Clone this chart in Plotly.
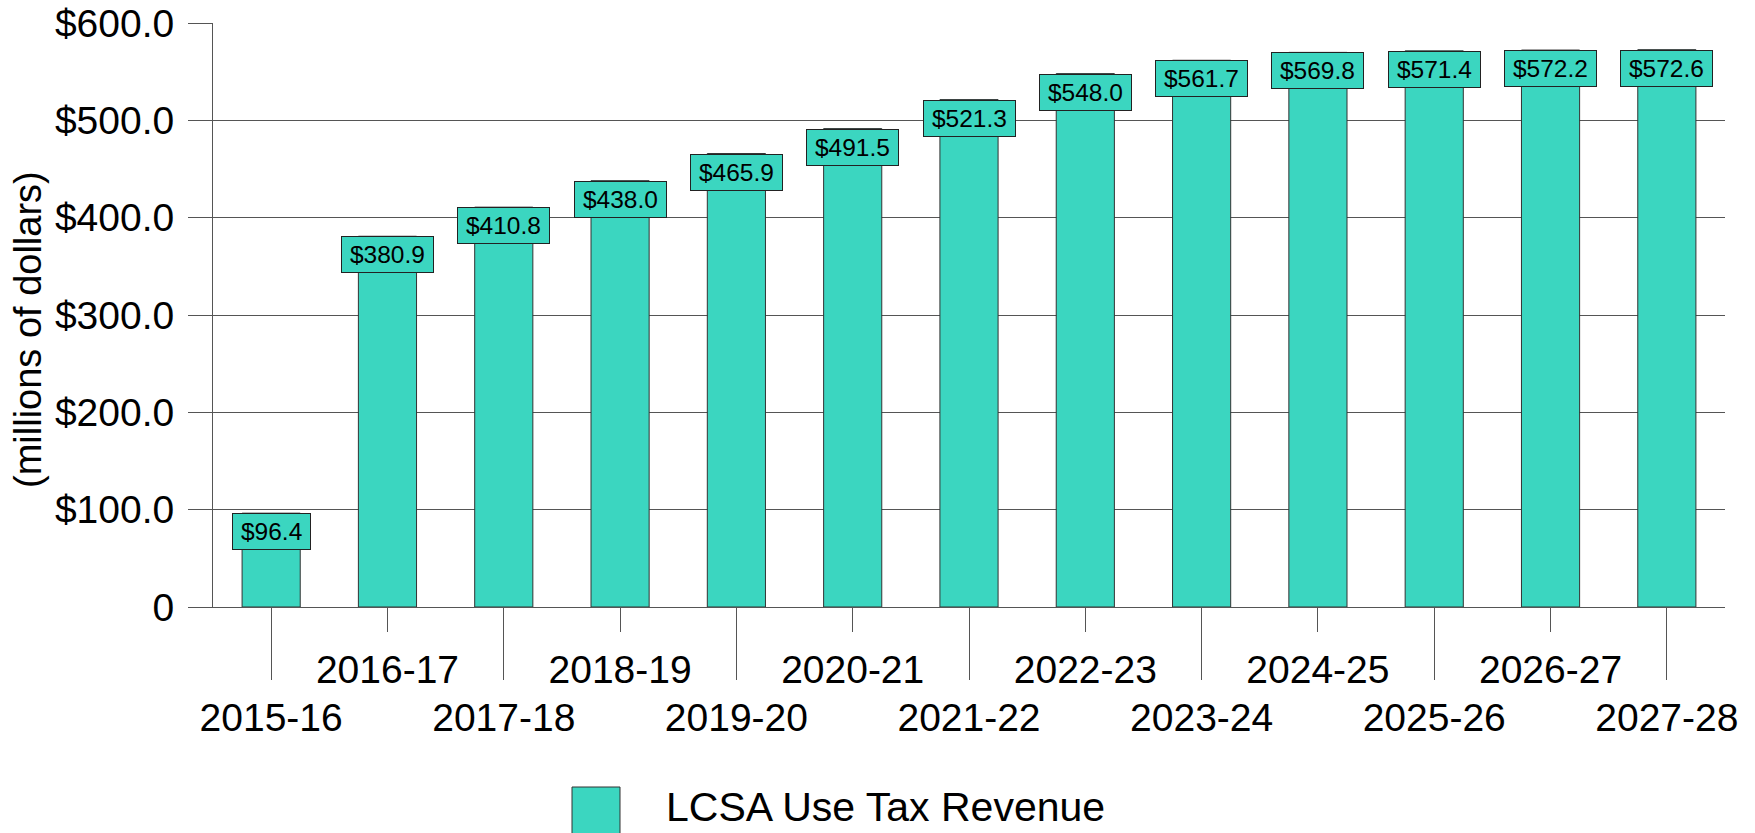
import plotly.graph_objects as go

categories = ["2015-16", "2016-17", "2017-18", "2018-19", "2019-20", "2020-21", "2021-22",
              "2022-23", "2023-24", "2024-25", "2025-26", "2026-27", "2027-28"]
revenue = [96.4, 380.9, 410.8, 438.0, 465.9, 491.5, 521.3, 548.0, 561.7, 569.8, 571.4, 572.2, 572.6]
y_ticks = [0, 100, 200, 300, 400, 500, 600]
y_tick_labels = ["0", "$100.0", "$200.0", "$300.0", "$400.0", "$500.0", "$600.0"]
series_name = "LCSA Use Tax Revenue"
y_title = "(millions of dollars)"

FONT = "Liberation Sans, Arial, sans-serif"
TEAL = "#3BD6C0"
GRID = "#555555"

W, H = 1755, 833
ML, MR, MT, MB = 213, 30, 23, 226
PW, PH = W - ML - MR, H - MT - MB

def px_x(p):
    return (p - ML) / PW

def px_y(p):
    return (H - MB - p) / PH

fig = go.Figure()
fig.add_trace(go.Bar(
    x=categories, y=revenue, name=series_name,
    marker=dict(color=TEAL, line=dict(color="#333333", width=1)),
    showlegend=False, hoverinfo="x+y",
))
# helper trace for second (alternating) x axis
fig.add_trace(go.Scatter(x=categories, y=revenue, xaxis="x2", mode="markers",
                         marker=dict(opacity=0), showlegend=False, hoverinfo="skip"))

even = categories[0::2]
odd = categories[1::2]

annotations = []
lab_font = 24.5
for c, v in zip(categories, revenue):
    t = f"${v:.1f}"
    n_digits = sum(ch.isdigit() for ch in t)
    tw = lab_font * (0.556 * (n_digits + 1) + 0.278) + 8
    annotations.append(dict(
        x=c, y=v, xref="x", yref="y", text=t, showarrow=False,
        yanchor="top", xanchor="center",
        font=dict(family=FONT, size=lab_font, color="#000000"),
        bgcolor=TEAL, bordercolor="#222222", borderwidth=1, borderpad=4,
        width=tw,
    ))

# y-axis title
annotations.append(dict(
    x=px_x(28), y=px_y(330), xref="paper", yref="paper", text=y_title,
    textangle=-90, showarrow=False, xanchor="center", yanchor="middle",
    font=dict(family=FONT, size=38, color="#000000"),
))
# manual legend
annotations.append(dict(
    x=px_x(664), y=px_y(832), xref="paper", yref="paper", text=series_name,
    showarrow=False, xanchor="left", yanchor="bottom",
    font=dict(family=FONT, size=41, color="#000000"),
))
shapes = [dict(type="rect", xref="paper", yref="paper",
               x0=px_x(572), x1=px_x(620), y0=px_y(787), y1=px_y(836),
               fillcolor=TEAL, line=dict(color="#333333", width=1))]

axis_common = dict(type="category", categoryorder="array", categoryarray=categories,
                   range=[-0.5, len(categories) - 0.5], showgrid=False,
                   ticks="outside", tickcolor=GRID, tickwidth=1,
                   tickfont=dict(family=FONT, size=39, color="#000000"),
                   tickmode="array")

fig.update_layout(
    width=W, height=H,
    margin=dict(l=ML, r=MR, t=MT, b=MB, autoexpand=False),
    paper_bgcolor="white", plot_bgcolor="white",
    bargap=0.5,
    showlegend=False,
    xaxis=dict(**axis_common, tickvals=even, ticktext=even, ticklen=72,
               showline=True, linecolor=GRID, linewidth=1, ticklabelstandoff=4),
    xaxis2=dict(**axis_common, tickvals=odd, ticktext=odd, ticklen=24,
                overlaying="x", side="bottom", matches="x", showline=False,
                ticklabelstandoff=4),
    yaxis=dict(range=[0, 600], tickmode="array", tickvals=y_ticks, ticktext=y_tick_labels,
               showgrid=True, gridcolor=GRID, gridwidth=1,
               zeroline=True, zerolinecolor=GRID, zerolinewidth=1,
               showline=True, linecolor=GRID, linewidth=1,
               ticks="outside", ticklen=24, tickcolor=GRID, tickwidth=1,
               ticklabelstandoff=6,
               tickfont=dict(family=FONT, size=39, color="#000000")),
    annotations=annotations,
    shapes=shapes,
)

fig.write_html("out.html")
